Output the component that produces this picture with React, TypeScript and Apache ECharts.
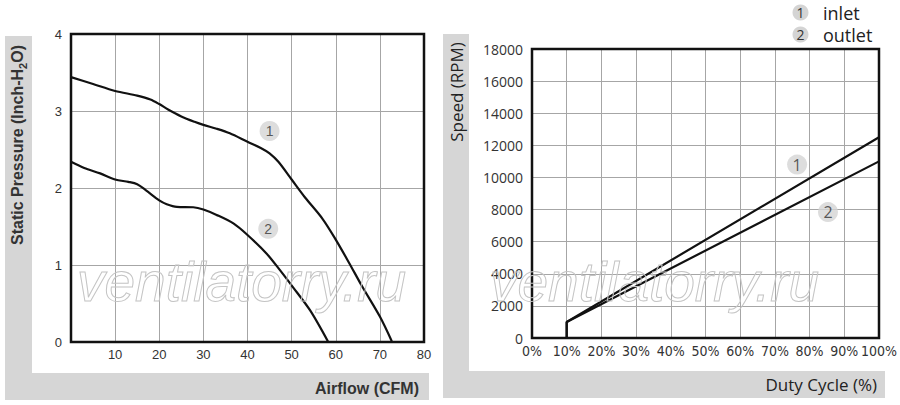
import React, { useEffect, useRef } from "react";
import * as echarts from "echarts";

// Left chart: static pressure vs airflow
const airflow1 = [0, 5, 10, 15, 18, 20, 22, 25, 28, 30, 33, 36, 40, 43, 45, 47, 50, 53, 57, 60, 63, 66, 70, 72.7];
const pressure1 = [3.44, 3.35, 3.26, 3.2, 3.15, 3.09, 3.02, 2.93, 2.86, 2.82, 2.77, 2.71, 2.6, 2.52, 2.45, 2.34, 2.11, 1.88, 1.6, 1.33, 1.03, 0.72, 0.33, 0.01];
const airflow2 = [0, 3, 6.6, 10, 13, 15, 17, 20, 21.7, 24, 27.7, 30, 33, 36.8, 40, 44.3, 47.4, 50.2, 54.2, 58.3];
const pressure2 = [2.34, 2.26, 2.19, 2.11, 2.08, 2.05, 1.97, 1.84, 1.79, 1.755, 1.75, 1.72, 1.65, 1.54, 1.39, 1.15, 0.93, 0.72, 0.41, 0.0];
const leftMarkers = [
  [45, 2.74, "1"],
  [44.7, 1.47, "2"],
];
const airflowTicks = [0, 80, 10];
const pressureTicks = [0, 4, 1];

// Right chart: speed vs duty cycle
const duty1 = [10, 10, 100];
const speed1 = [0, 1000, 12500];
const duty2 = [10, 10, 100];
const speed2 = [0, 1000, 11000];
const rightMarkers = [
  [76.4, 10800, "1"],
  [85.3, 7840, "2"],
];
const dutyTicks = [0, 100, 10];
const speedTicks = [0, 18000, 2000];
const legendItems = [
  ["1", "inlet"],
  ["2", "outlet"],
];

const ARIAL = "'Liberation Sans', Arial, sans-serif";
const OPEN = "'Open Sans', sans-serif";
const NARROW = "'Liberation Sans Narrow', 'DejaVu Sans Condensed', 'Open Sans', sans-serif";
const STRIP = "#d6d6d6";
const GRIDC = "#a6a6a6";

function zip(xs: number[], ys: number[]) {
  return xs.map((x, i) => [x, ys[i]]);
}

export default function App() {
  const ref = useRef<HTMLDivElement>(null);
  useEffect(() => {
    document.body.style.margin = "0";
    if (!ref.current) return;
    const chart = echarts.init(ref.current, null, { renderer: "svg" });

    const lineStyle = { color: "#111", width: 2.2 };
    const markerSeries = (data: any[], xi: number) => ({
      type: "scatter",
      xAxisIndex: xi,
      yAxisIndex: xi,
      data,
      symbol: "circle",
      symbolSize: 20,
      itemStyle: { color: "#d4d4d4" },
      label: {
        show: true,
        position: "inside",
        formatter: (p: any) => p.value[2],
        fontSize: xi === 0 ? 14 : 16,
        fontFamily: xi === 0 ? ARIAL : OPEN,
        color: "#333",
      },
      z: 5,
    });

    const wm = (x: number) => ({
      type: "text", x, y: 254,
      style: { text: "ventilatorry.ru", align: "left", verticalAlign: "top", fontSize: 55, fontStyle: "italic", fontFamily: ARIAL, fill: "rgba(255,255,255,0)", stroke: "#c4c4c4", lineWidth: 1 },
      z: 20, silent: true,
    });

    const option: any = {
      animation: false,
      backgroundColor: "#fff",
      grid: [
        { left: 71, top: 34, width: 353, height: 308, show: true, borderColor: "#111", borderWidth: 2.5, backgroundColor: "transparent", z: 3 },
        { left: 532, top: 49, width: 349, height: 289, show: true, borderColor: "#111", borderWidth: 2.5, backgroundColor: "transparent", z: 3 },
      ],
      xAxis: [
        {
          type: "value", gridIndex: 0, min: airflowTicks[0], max: airflowTicks[1], interval: airflowTicks[2],
          axisLine: { show: false }, axisTick: { show: false },
          splitLine: { lineStyle: { color: GRIDC, width: 1 } },
          axisLabel: { margin: 6, fontSize: 13, fontFamily: ARIAL, color: "#333", formatter: (v: number) => (v === 0 ? "" : String(v)) },
        },
        {
          type: "value", gridIndex: 1, min: dutyTicks[0], max: dutyTicks[1], interval: dutyTicks[2],
          axisLine: { show: false }, axisTick: { show: false },
          splitLine: { lineStyle: { color: GRIDC, width: 1 } },
          axisLabel: { margin: 6, fontSize: 14, fontFamily: NARROW, color: "#333", formatter: (v: number) => v + "%" },
        },
      ],
      yAxis: [
        {
          type: "value", gridIndex: 0, min: pressureTicks[0], max: pressureTicks[1], interval: pressureTicks[2],
          axisLine: { show: false }, axisTick: { show: false },
          splitLine: { lineStyle: { color: GRIDC, width: 1 } },
          axisLabel: { margin: 9, fontSize: 13, fontFamily: ARIAL, color: "#333" },
        },
        {
          type: "value", gridIndex: 1, min: speedTicks[0], max: speedTicks[1], interval: speedTicks[2],
          axisLine: { show: false }, axisTick: { show: false },
          splitLine: { lineStyle: { color: GRIDC, width: 1 } },
          axisLabel: { margin: 9, fontSize: 14, fontFamily: OPEN, color: "#333", formatter: (v: number) => String(v) },
        },
      ],
      series: [
        { type: "line", xAxisIndex: 0, yAxisIndex: 0, data: zip(airflow1, pressure1), smooth: 0.3, symbol: "none", lineStyle, z: 4 },
        { type: "line", xAxisIndex: 0, yAxisIndex: 0, data: zip(airflow2, pressure2), smooth: 0.3, symbol: "none", lineStyle, z: 4 },
        markerSeries(leftMarkers, 0),
        { type: "line", xAxisIndex: 1, yAxisIndex: 1, data: zip(duty1, speed1), symbol: "none", lineStyle, z: 4 },
        { type: "line", xAxisIndex: 1, yAxisIndex: 1, data: zip(duty2, speed2), symbol: "none", lineStyle, z: 4 },
        markerSeries(rightMarkers, 1),
      ],
      graphic: [
        // gray L-shaped strips
        { type: "rect", shape: { x: 5, y: 36, width: 27, height: 364 }, style: { fill: STRIP }, z: -10 },
        { type: "rect", shape: { x: 5, y: 373, width: 424, height: 27 }, style: { fill: STRIP }, z: -10 },
        { type: "rect", shape: { x: 443, y: 34, width: 26, height: 364 }, style: { fill: STRIP }, z: -10 },
        { type: "rect", shape: { x: 443, y: 371, width: 442, height: 27 }, style: { fill: STRIP }, z: -10 },
        // axis titles
        {
          type: "text", x: 17, y: 145, rotation: Math.PI / 2,
          style: {
            text: "{a|Static Pressure (Inch-H}{s|2}{a|O)}",
            align: "center", verticalAlign: "middle",
            rich: {
              a: { fontSize: 16, fontWeight: "bold", fontFamily: ARIAL, fill: "#333", lineHeight: 22, verticalAlign: "middle" },
              s: { fontSize: 11, fontWeight: "bold", fontFamily: ARIAL, fill: "#333", lineHeight: 22, verticalAlign: "bottom" },
            },
          },
          z: 10,
        },
        {
          type: "text", x: 419, y: 388,
          style: { text: "Airflow (CFM)", align: "right", verticalAlign: "middle", fontSize: 16, fontWeight: "bold", fontFamily: ARIAL, fill: "#333" },
          z: 10,
        },
        {
          type: "text", x: 456, y: 92, rotation: Math.PI / 2,
          style: { text: "Speed (RPM)", align: "center", verticalAlign: "middle", fontSize: 17, fontFamily: OPEN, fill: "#222" },
          z: 10,
        },
        {
          type: "text", x: 877, y: 384,
          style: { text: "Duty Cycle (%)", align: "right", verticalAlign: "middle", fontSize: 17, fontFamily: OPEN, fill: "#222" },
          z: 10,
        },
        // legend
        ...legendItems.flatMap((it, i) => [
          { type: "circle", shape: { cx: 800.5, cy: 12.5 + i * 22, r: 8 }, style: { fill: "#d4d4d4" }, z: 10 },
          { type: "text", x: 800.5, y: 12.5 + i * 22, style: { text: it[0], align: "center", verticalAlign: "middle", fontSize: 14, fontFamily: OPEN, fill: "#333" }, z: 11 },
          { type: "text", x: 823, y: 12.5 + i * 22, style: { text: it[1], align: "left", verticalAlign: "middle", fontSize: 18, fontFamily: OPEN, fill: "#222" }, z: 11 },
        ]),
        // watermarks
        wm(77),
        wm(490),
      ],
    };
    chart.setOption(option);
    return () => chart.dispose();
  }, []);
  return <div ref={ref} style={{ width: 900, height: 405 }} />;
}
